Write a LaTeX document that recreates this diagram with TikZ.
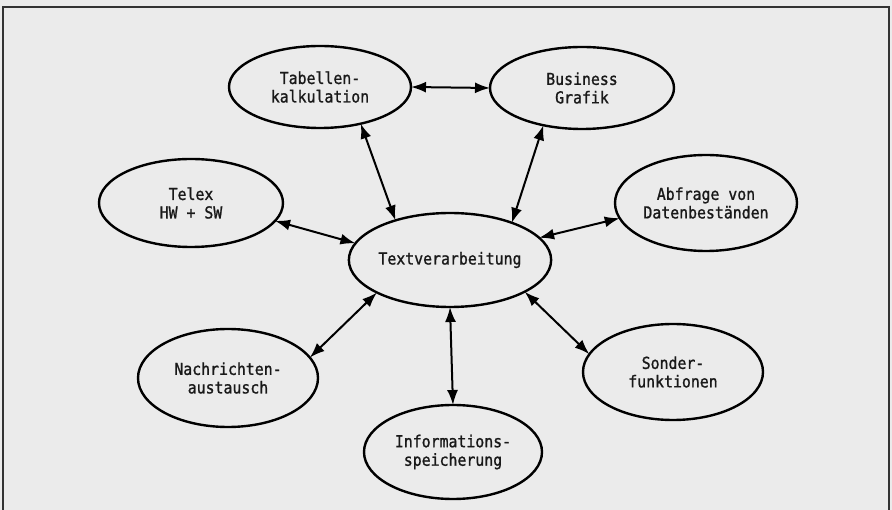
\documentclass[tikz,border=0pt]{standalone}
\usepackage{fontspec}
\setmonofont[FakeStretch=0.9,FakeBold=1.2]{DejaVu Sans Mono}
\usetikzlibrary{shapes.geometric,arrows.meta}
\begin{document}
\begin{tikzpicture}[x=1pt,y=-1pt,
  bubble/.style={ellipse,draw=black,line width=2.4pt,inner sep=0pt,outer sep=0pt,
    align=center,font=\ttfamily\fontsize{16.5}{18.5}\selectfont,text=black!90},
  link/.style={draw=black,line width=2pt,
    {Latex[length=15pt,width=11pt]}-{Latex[length=15pt,width=11pt]}}]
\fill[black!8] (0,0) rectangle (892,510);
\useasboundingbox (0,0) rectangle (892,510);
\draw[line width=1.5pt,black!80] (3,515) -- (3,7) -- (889,7) -- (889,515);

\node[bubble,minimum width=182pt,minimum height=82pt] (tab) at (320,87) {Tabellen-\\kalkulation};
\node[bubble,minimum width=184pt,minimum height=82pt] (bus) at (582,88) {Business\\Grafik};
\node[bubble,minimum width=184pt,minimum height=88pt] (tel) at (191,203) {Telex\\HW + SW};
\node[bubble,minimum width=178pt,minimum height=94pt] (txt) at (450,260) {Textverarbeitung};
\node[bubble,minimum width=182pt,minimum height=96pt] (abf) at (706,203) {Abfrage von\\Datenbeständen};
\node[bubble,minimum width=180pt,minimum height=98pt] (nach) at (228,378) {Nachrichten-\\austausch};
\node[bubble,minimum width=178pt,minimum height=94pt] (info) at (453,452) {Informations-\\speicherung};
\node[bubble,minimum width=180pt,minimum height=96pt] (son) at (673,372) {Sonder-\\funktionen};

\draw[link] (tab.east) -- (bus.west);
\draw[link] (tab.-42) -- (txt.144);
\draw[link] (bus.224) -- (txt.31);
\draw[link] (tel.-12) -- (txt.170);
\draw[link] (abf.190) -- (txt.14);
\draw[link] (nach.14) -- (txt.204);
\draw[link] (txt.south) -- (info.north);
\draw[link] (son.168) -- (txt.-23);
\end{tikzpicture}
\end{document}
